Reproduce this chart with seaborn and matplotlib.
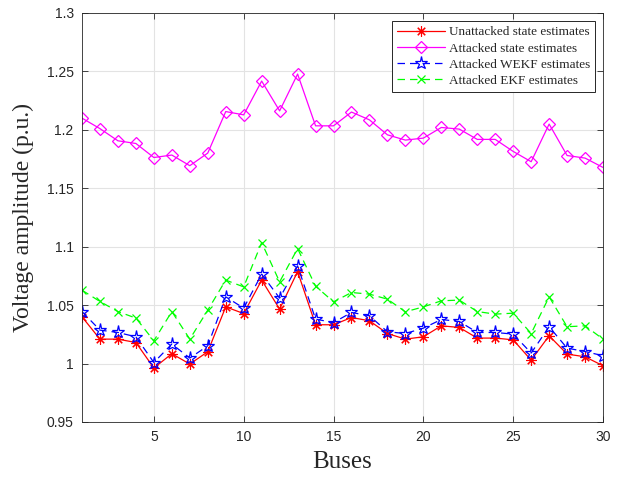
import numpy as np
import pandas as pd
import matplotlib
matplotlib.use("Agg")
import matplotlib.pyplot as plt
import seaborn as sns

buses = list(range(1, 31))

unattacked = [1.0400, 1.0209, 1.0209, 1.0180, 0.9962, 1.0084, 0.9996, 1.0101, 1.0485, 1.0428,
              1.0714, 1.0466, 1.0787, 1.0332, 1.0332, 1.0394, 1.0366, 1.0257, 1.0209, 1.0229,
              1.0323, 1.0309, 1.0218, 1.0218, 1.0203, 1.0029, 1.0238, 1.0081, 1.0058, 0.9981]

attacked = [1.2100, 1.2010, 1.1906, 1.1883, 1.1763, 1.1784, 1.1693, 1.1801, 1.2156, 1.2128,
            1.2417, 1.2162, 1.2477, 1.2034, 1.2034, 1.2152, 1.2085, 1.1957, 1.1912, 1.1929,
            1.2020, 1.2006, 1.1918, 1.1918, 1.1815, 1.1727, 1.2049, 1.1780, 1.1758, 1.1678]

wekf = [1.0445, 1.0286, 1.0266, 1.0229, 1.0009, 1.0167, 1.0047, 1.0152, 1.0571, 1.0474,
        1.0765, 1.0560, 1.0836, 1.0380, 1.0351, 1.0437, 1.0409, 1.0272, 1.0257, 1.0303,
        1.0377, 1.0360, 1.0266, 1.0266, 1.0252, 1.0090, 1.0315, 1.0132, 1.0103, 1.0067]

ekf = [1.0628, 1.0531, 1.0445, 1.0389, 1.0195, 1.0445, 1.0209, 1.0457, 1.0714, 1.0656,
       1.1035, 1.0699, 1.0984, 1.0662, 1.0528, 1.0608, 1.0594, 1.0551, 1.0443, 1.0485,
       1.0537, 1.0543, 1.0445, 1.0423, 1.0431, 1.0257, 1.0571, 1.0315, 1.0323, 1.0209]

series_names = ["Unattacked state estimates", "Attacked state estimates",
                "Attacked WEKF estimates", "Attacked EKF estimates"]

y_ticks = [0.95, 1.0, 1.05, 1.1, 1.15, 1.2, 1.25, 1.3]
y_tick_labels = ["0.95", "1", "1.05", "1.1", "1.15", "1.2", "1.25", "1.3"]
x_ticks = [5, 10, 15, 20, 25, 30]

sns.set_style("ticks")
plt.rcParams["font.family"] = ["Liberation Serif", "DejaVu Serif"]

fig = plt.figure(figsize=(6.24, 4.79), dpi=100)
ax = fig.add_axes([0.1314, 0.119, 0.835, 0.854])

styles = [
    dict(color="#ff0000", linestyle="-", marker=(8, 2, 0), markersize=7.5,
         markeredgewidth=0.8, markeredgecolor="#ff0000"),
    dict(color="#ff00ff", linestyle="-", marker="D", markersize=6.5,
         markerfacecolor="none", markeredgewidth=0.9, markeredgecolor="#ff00ff"),
    dict(color="#0000ff", linestyle=(0, (6, 4)), marker="*", markersize=9.5,
         markerfacecolor="none", markeredgewidth=0.9, markeredgecolor="#0000ff"),
    dict(color="#00ff00", linestyle=(0, (6, 4)), marker="x", markersize=6,
         markeredgewidth=0.9, markeredgecolor="#00ff00"),
]

for name, vals, st in zip(series_names, [unattacked, attacked, wekf, ekf], styles):
    df = pd.DataFrame({"Bus": buses, "Voltage": vals})
    sns.lineplot(data=df, x="Bus", y="Voltage", ax=ax, label=name,
                 linewidth=0.9, **st)

ax.set_xlim(1, 30)
ax.set_ylim(0.95, 1.3)
ax.set_xticks(x_ticks)
ax.set_yticks(y_ticks)
ax.set_yticklabels(y_tick_labels)
ax.tick_params(direction="in", labelsize=10, length=4, width=0.6,
               top=True, right=True, colors="#262626", pad=6)
for lab in ax.get_xticklabels() + ax.get_yticklabels():
    lab.set_fontfamily(["Liberation Sans", "DejaVu Sans"])
ax.grid(True, color="#e3e3e3", linewidth=0.8)
ax.set_axisbelow(True)
for sp in ax.spines.values():
    sp.set_linewidth(0.6)
    sp.set_color("#262626")

ax.set_xlabel("Buses", fontsize=18, labelpad=5)
ax.set_ylabel("Voltage amplitude (p.u.)", fontsize=17, labelpad=9)

leg = ax.legend(loc="upper right", fontsize=9.5, frameon=True, fancybox=False,
                edgecolor="#262626", framealpha=1, borderpad=0.4,
                handlelength=3.6, handletextpad=0.3, labelspacing=0.3,
                borderaxespad=0.6)
leg.get_frame().set_linewidth(0.7)

fig.savefig("out.png", dpi=100)
